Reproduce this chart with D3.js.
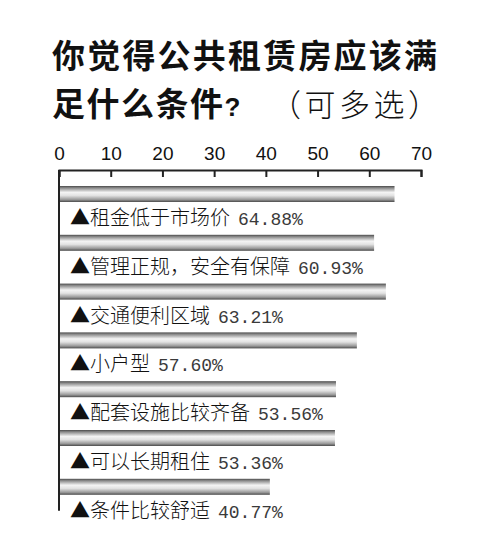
<!DOCTYPE html>
<html>
<head>
<meta charset="utf-8">
<script src="https://cdn.jsdelivr.net/npm/d3@7"></script>
<style>
  body { margin: 0; background: #fff; }
  svg { display: block; }
</style>
</head>
<body>
<div id="chart"></div>
<script>
var categories = ["租金低于市场价", "管理正规，安全有保障", "交通便利区域", "小户型", "配套设施比较齐备", "可以长期租住", "条件比较舒适"]
var values = [64.88, 60.93, 63.21, 57.60, 53.56, 53.36, 40.77]
var percentLabels = ["64.88%", "60.93%", "63.21%", "57.60%", "53.56%", "53.36%", "40.77%"]
var tickValues = [0, 10, 20, 30, 40, 50, 60, 70]
var titleLine1 = "你觉得公共租赁房应该满"
var titleLine2 = "足什么条件"
var titleNote = "（可多选）"

var width = 500, height = 556
var svg = d3.select('#chart').append('svg')
  .attr('width', width)
  .attr('height', height)

// cylinder-like bar shading
var grad = svg.append('defs').append('linearGradient')
  .attr('id', 'barGrad')
  .attr('x1', 0).attr('y1', 0).attr('x2', 0).attr('y2', 1)
var stops = [[0, '#4a4a4a'], [0.12, '#8a8a8a'], [0.4, '#f4f4f4'], [0.6, '#e2e2e2'], [0.85, '#999'], [1, '#4a4a4a']]
stops.forEach(function(s) {
  grad.append('stop').attr('offset', s[0]).attr('stop-color', s[1])
})

// title
var title = svg.append('g')
  .style('font-family', '"Noto Sans CJK SC", sans-serif')
  .style('font-size', '33px')
  .attr('fill', '#111')
title.append('text')
  .attr('x', 52).attr('y', 68)
  .style('font-weight', 'bold')
  .style('letter-spacing', '2.2px')
  .text(titleLine1)
var t2 = title.append('text')
  .attr('x', 52).attr('y', 116)
  .style('font-weight', 'bold')
  .style('letter-spacing', '1.5px')
t2.append('tspan').text(titleLine2)
t2.append('tspan')
  .style('font-family', '"Liberation Sans", Arial, sans-serif')
  .style('font-size', '26px')
  .text('?')
t2.append('tspan')
  .attr('x', 270)
  .style('font-size', '31px')
  .style('font-weight', 300)
  .style('letter-spacing', '3.5px')
  .text(titleNote)

var x = d3.scaleLinear()
  .domain([0, 70])
  .range([59, 421])

var y = d3.scaleBand()
  .domain(categories)
  .range([186, 186 + 6 * 48.8 + 16])
  .paddingInner(1 - 16 / 48.8)
  .paddingOuter(0)
  .align(0)

var axisTop = 170

var xAxis = svg.append('g')
  .attr('transform', 'translate(0,' + axisTop + ')')
  .call(d3.axisTop(x).tickValues(tickValues).tickSize(-7).tickPadding(10).tickFormat(d3.format('d')))
xAxis.selectAll('path, line')
  .attr('stroke', '#222')
  .attr('stroke-width', 2)
xAxis.selectAll('text')
  .attr('fill', '#111')
  .style('font-family', '"Liberation Sans", Arial, sans-serif')
  .style('font-size', '19px')

// left frame line
svg.append('line')
  .attr('x1', x(0)).attr('x2', x(0))
  .attr('y1', axisTop).attr('y2', y(categories[categories.length - 1]) + y.bandwidth() + 16)
  .attr('stroke', '#222')
  .attr('stroke-width', 2)

var rows = svg.selectAll('.row')
  .data(categories)
  .enter()
  .append('g')
  .attr('class', 'row')

rows.append('rect')
  .attr('x', x(0) + 1)
  .attr('y', d => y(d))
  .attr('width', (d, i) => x(values[i]) - x(0) - 1)
  .attr('height', y.bandwidth())
  .attr('fill', 'url(#barGrad)')

var label = rows.append('text')
  .attr('x', 70)
  .attr('y', d => y(d) + y.bandwidth() + 23)
label.append('tspan')
  .style('font-family', '"Noto Sans CJK SC", sans-serif')
  .style('font-size', '20px')
  .style('font-weight', 300)
  .attr('fill', '#111')
  .text(d => '▲' + d)
label.append('tspan')
  .attr('dx', 8)
  .style('font-family', '"Liberation Mono", monospace')
  .style('font-size', '18px')
  .attr('fill', '#3a3a3a')
  .text((d, i) => percentLabels[i])
</script>
</body>
</html>
